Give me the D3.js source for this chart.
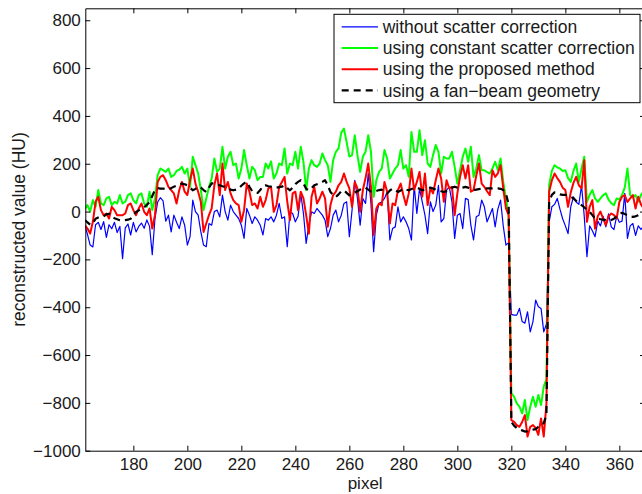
<!DOCTYPE html>
<html>
<head>
<meta charset="utf-8">
<script src="https://cdn.jsdelivr.net/npm/d3@7"></script>
<style>
  body { margin: 0; background: #fff; }
  text { font-family: "Liberation Sans", Arial, Helvetica, sans-serif; fill: #1a1a1a; }
</style>
</head>
<body>
<div id="chart"></div>
<script>
// pixel index 162 .. 369
var firstPixel = 162, lastPixel = 369;
var xTicks = [180, 200, 220, 240, 260, 280, 300, 320, 340, 360];
var yTicks = [-1000, -800, -600, -400, -200, 0, 200, 400, 600, 800];

var noCorrection = [
  -57, -95, -140, -148, -55, -45, -75, -42, -108, -55,
  -72, -45, -88, -62, -197, -68, -52, -98, -45, -85,
  -62, -48, -70, -35, -62, -180, -30, 40, 58, 45,
  -40, -15, -85, -15, -45, -71, -22, -57, -140, -105,
  48, 0, -15, -85, -140, -147, -50, -57, 0, 6,
  -22, 69, 0, -36, 27, 0, -15, -29, -57, -112,
  13, -15, -50, -22, -36, -57, -98, -29, -36, -22,
  -43, -15, 34, -29, -22, -147, -1, -8, -43, -20,
  75, -8, -133, -57, -1, -8, 13, -1, -15, -36,
  -105, -71, -15, 6, -43, -15, 34, 41, -105, 6,
  131, 55, -57, 55, 34, 159, 34, -168, -15, 34,
  41, 55, 83, -119, -71, -64, 20, -43, -22, -43,
  -71, -119, 110, -8, 97, 41, -15, -92, 41, 0,
  27, 110, -43, -29, 90, 103, 41, -112, -15, -8,
  -71, 55, 50, -57, -119, -22, -15, 48, 20, -43,
  -15, 13, -64, 10, 48, -60, -140, -130, -430, -433,
  -433, -405, -460, -467, -419, -503, -460, -370, -398, -405,
  -503, -470, -43, 20, 30, 55, 10, -30, -60, -92,
  20, 62, 40, 30, 110, -20, -189, -60, -80, -105,
  -40, -60, -20, -64, -10, -64, -75, -20, -45, -40,
  76, -112, -60, -50, -100, -60, -75, -60
];

var constantCorrection = [
  10, 27, 0, 48, 20, 90, 34, 27, 55, 62,
  27, 41, 34, 69, 34, 41, 69, 76, 48, 34,
  69, 76, 34, 20, 83, 6, 55, 152, 180, 173,
  166, 180, 145, 152, 170, 175, 187, 159, 180, 103,
  229, 194, 159, 90, 6, 55, 103, 138, 222, 166,
  180, 271, 180, 229, 250, 194, 201, 138, 180, 257,
  194, 138, 187, 173, 131, 145, 145, 201, 180, 210,
  138, 159, 201, 194, 264, 159, 201, 194, 250, 180,
  271, 208, 90, 180, 215, 194, 187, 201, 243, 215,
  194, 124, 215, 250, 264, 330, 347, 290, 230, 236,
  319, 236, 166, 229, 250, 319, 250, 62, 131, 166,
  180, 257, 222, 138, 159, 180, 194, 257, 180, 194,
  145, 333, 250, 250, 340, 236, 298, 201, 187, 236,
  278, 250, 159, 229, 222, 222, 250, 187, 117, 173,
  229, 264, 208, 271, 145, 180, 236, 173, 173, 165,
  159, 180, 208, 173, 222, 124, 55, -15, -760, -774,
  -802, -816, -844, -788, -872, -816, -774, -816, -767, -809,
  -732, -700, 110, 170, 194, 185, 180, 170, 173, 140,
  124, 170, 201, 124, 180, 229, 40, 70, 90, 55,
  41, 55, 69, 76, 50, 35, 27, 55, 50, 69,
  100, 180, 69, 60, 69, 41, 70, 83
];

var proposedMethod = [
  -57, -71, -92, -43, 41, 62, 6, -15, -8, -29,
  20, 6, -15, -15, -15, -8, 27, 34, 6, -15,
  13, 34, -1, -15, 13, -71, -15, 124, 145, 152,
  131, 103, 90, 76, 34, 90, 124, 83, 69, 131,
  180, 117, 83, 40, -85, -50, -15, 13, 110, 159,
  69, 201, 90, 124, 76, 48, 34, 27, -43, 6,
  117, 83, 27, 34, 13, 62, 20, 48, 97, 103,
  -1, 27, 103, 124, 145, 41, -36, 76, 83, 6,
  83, 55, -15, -92, 62, 103, 34, 55, 83, 55,
  -64, 27, 69, 83, 110, 124, 159, 124, 97, 20,
  124, 97, -1, 90, 140, 201, 103, -98, 13, 34,
  27, 124, 83, -50, 34, 27, 90, 117, 69, 27,
  76, 180, 90, 124, 166, 62, 159, 27, 97, 76,
  131, 180, 138, 41, 131, 97, 103, -15, 76, 145,
  194, 138, 194, 83, 90, 150, 201, 117, 103, 85,
  69, 173, 145, 160, 194, 97, 13, -15, -872, -879,
  -893, -900, -880, -851, -941, -900, -893, -905, -934, -865,
  -941, -802, 83, 130, 159, 140, 124, 100, 90, 20,
  80, 120, 145, 110, 97, 215, -43, 20, 48, -71,
  -20, 0, -30, -57, -20, -8, -15, -29, 40, 62,
  69, 40, 55, 69, 13, 62, 30, 13
];

var fanBeam = [
  -36, -45, -55, -50, -30, -25, -22, -20, -12, -9,
  -18, -28, -32, -36, -38, -36, -34, -30, -15, -2,
  5, 12, 18, 28, 40, 65, 90, 98, 96, 96,
  94, 92, 98, 104, 108, 114, 117, 114, 110, 100,
  89, 95, 104, 100, 90, 82, 100, 118, 118, 112,
  110, 106, 103, 98, 92, 89, 92, 96, 108, 118,
  124, 104, 85, 80, 78, 90, 108, 110, 106, 104,
  100, 100, 102, 104, 110, 98, 89, 100, 115, 124,
  131, 118, 95, 89, 98, 110, 114, 117, 124, 131,
  110, 82, 70, 61, 72, 85, 89, 78, 68, 74,
  80, 85, 92, 98, 100, 92, 84, 82, 86, 90,
  92, 84, 75, 88, 96, 90, 82, 88, 96, 92,
  89, 94, 98, 100, 95, 89, 92, 96, 100, 96,
  92, 89, 85, 82, 86, 89, 100, 104, 100, 97,
  100, 103, 100, 94, 90, 92, 94, 96, 96, 97,
  97, 97, 97, 97, 95, 90, 75, 30, -880, -895,
  -905, -910, -915, -920, -918, -915, -912, -910, -900, -890,
  -885, -850, 41, 70, 80, 78, 72, 70, 70, 66,
  62, 55, 45, 35, 27, 18, 8, -1, -15, -29,
  -30, -32, -34, -36, -38, -35, -30, -20, -10, -5,
  -10, -15, -20, -22, -20, -15, -10, -5
];

var seriesNames = ['without scatter correction', 'using constant scatter correction',
                   'using the proposed method', 'using a fan\u2212beam geometry'];

var W = 642, H = 494;
var mLeft = 85.3, mRight = 645, mTop = 8.3, mBottom = 450.7;

var pixels = d3.range(firstPixel, lastPixel + 1);

var x = d3.scaleLinear().domain([162.2, 369.5]).range([mLeft, mRight]);
var y = d3.scaleLinear().domain([-1000, 850]).range([mBottom, mTop]);

var svg = d3.select('#chart').append('svg')
    .attr('width', W)
    .attr('height', H)
    .style('display', 'block');

svg.append('rect').attr('width', W).attr('height', H).attr('fill', '#fff');

svg.append('defs').append('clipPath').attr('id', 'plot')
  .append('rect')
    .attr('x', mLeft).attr('y', mTop)
    .attr('width', mRight - mLeft).attr('height', mBottom - mTop);

var series = [
  { name: seriesNames[0], values: noCorrection,       color: '#0000ff', width: 1.2, dash: null },
  { name: seriesNames[1], values: constantCorrection, color: '#00ff00', width: 2,   dash: null },
  { name: seriesNames[2], values: proposedMethod,     color: '#ff0000', width: 2,   dash: null },
  { name: seriesNames[3], values: fanBeam,            color: '#000000', width: 2.2, dash: '7,5' }
];

var line = d3.line()
  .x(function(d, i) { return x(pixels[i]); })
  .y(function(d) { return y(d); });

var lines = svg.append('g').attr('clip-path', 'url(#plot)');

series.forEach(function(s) {
  lines.append('path')
    .datum(s.values)
    .attr('d', line)
    .attr('fill', 'none')
    .attr('stroke', s.color)
    .attr('stroke-width', s.width)
    .attr('stroke-linejoin', 'round')
    .attr('stroke-dasharray', s.dash);
});

// axes, ticks pointing inward (matlab style)
var fmt = function(d) { return d < 0 ? '\u2212' + Math.abs(d) : d; };

var gx = svg.append('g')
  .attr('transform', 'translate(0,' + mBottom + ')')
  .call(d3.axisBottom(x).tickValues(xTicks).tickSizeInner(-5).tickSizeOuter(0).tickPadding(7).tickFormat(fmt));

var gy = svg.append('g')
  .attr('transform', 'translate(' + mLeft + ',0)')
  .call(d3.axisLeft(y).tickValues(yTicks).tickSizeInner(-5).tickSizeOuter(0).tickPadding(4.5).tickFormat(fmt));

var gt = svg.append('g')
  .attr('transform', 'translate(0,' + mTop + ')')
  .call(d3.axisTop(x).tickValues(xTicks).tickSizeInner(-5).tickSizeOuter(0).tickFormat(''));

var gr = svg.append('g')
  .attr('transform', 'translate(' + mRight + ',0)')
  .call(d3.axisRight(y).tickValues(yTicks).tickSizeInner(-5).tickSizeOuter(0).tickFormat(''));

[gx, gy, gt, gr].forEach(function(g) {
  g.select('.domain').attr('stroke', '#000').attr('stroke-width', 1);
  g.selectAll('.tick line').attr('stroke', '#000').attr('stroke-width', 1);
  g.selectAll('.tick text').attr('font-size', 17).attr('fill', '#1a1a1a')
    .style('font-family', '"Liberation Sans", Arial, Helvetica, sans-serif');
});

// labels
svg.append('text')
  .attr('x', (mLeft + mRight) / 2)
  .attr('y', 489)
  .attr('text-anchor', 'middle')
  .attr('font-size', 17)
  .text('pixel');

svg.append('text')
  .attr('transform', 'translate(24.5,' + ((mTop + mBottom) / 2) + ') rotate(-90)')
  .attr('text-anchor', 'middle')
  .attr('font-size', 17.5)
  .text('reconstructed value (HU)');

// legend
var lg = svg.append('g');
lg.append('rect')
  .attr('x', 334).attr('y', 14.3)
  .attr('width', 306).attr('height', 88.4)
  .attr('fill', '#fff')
  .attr('stroke', '#000')
  .attr('stroke-width', 1);

series.forEach(function(s, i) {
  var ly = 26.8 + i * 21.2;
  lg.append('line')
    .attr('x1', 341.7).attr('x2', 378)
    .attr('y1', ly).attr('y2', ly)
    .attr('stroke', s.color)
    .attr('stroke-width', s.width)
    .attr('stroke-dasharray', s.dash);
  lg.append('text')
    .attr('x', 382.7)
    .attr('y', ly + 6.2)
    .attr('font-size', 17.5)
    .text(s.name);
});
</script>
</body>
</html>
